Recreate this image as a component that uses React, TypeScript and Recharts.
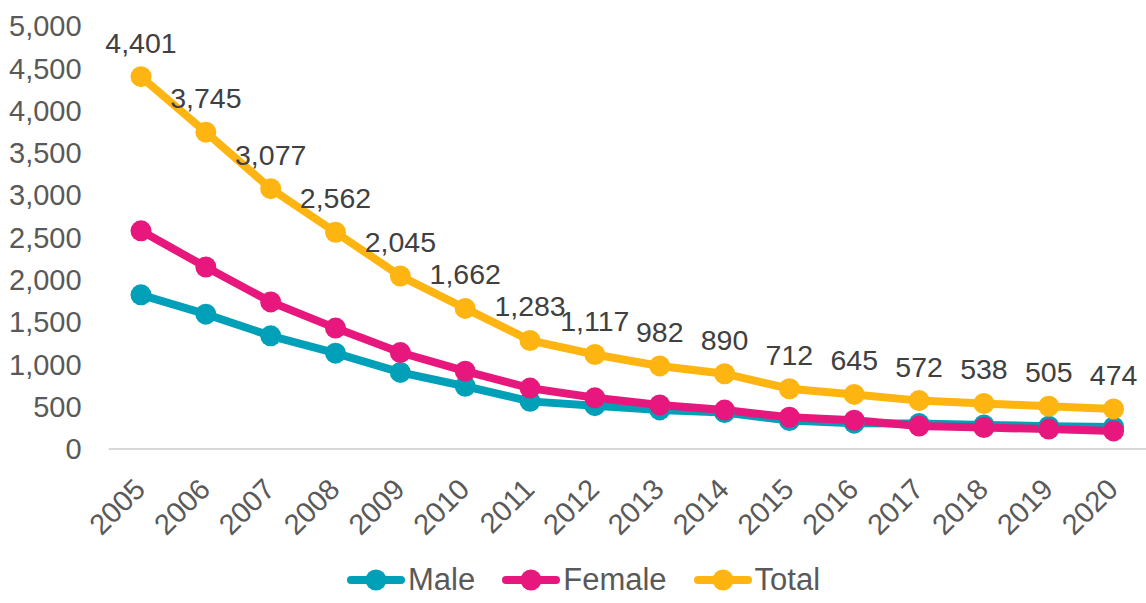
import React from 'react';
import { LineChart, Line, XAxis, YAxis, Legend, LabelList } from 'recharts';

const years = ['2005', '2006', '2007', '2008', '2009', '2010', '2011', '2012', '2013', '2014', '2015', '2016', '2017', '2018', '2019', '2020'];
const male = [1822, 1594, 1338, 1133, 905, 742, 563, 512, 462, 430, 337, 305, 300, 285, 270, 260];
const female = [2579, 2151, 1739, 1429, 1140, 920, 720, 605, 520, 460, 375, 340, 272, 253, 235, 214];
const total = [4401, 3745, 3077, 2562, 2045, 1662, 1283, 1117, 982, 890, 712, 645, 572, 538, 505, 474];
const yTicks = [0, 500, 1000, 1500, 2000, 2500, 3000, 3500, 4000, 4500, 5000];

const series = [
  { key: 'male', name: 'Male', color: '#00A0B9' },
  { key: 'female', name: 'Female', color: '#E8177D' },
  { key: 'total', name: 'Total', color: '#FFB511' },
];

const data = years.map((y, i) => ({ year: y, male: male[i], female: female[i], total: total[i] }));

const FONT = '"Liberation Sans", Arial, sans-serif';

const XTick = (props: any) => {
  const { x, y, payload } = props;
  return (
    <text
      transform={`translate(${x + 6},${y + 34}) rotate(-45)`}
      textAnchor="end"
      fill="#595959"
      fontSize={29}
      fontFamily={FONT}
    >
      {payload.value}
    </text>
  );
};

const LegendContent = () => (
  <div style={{ display: 'flex', alignItems: 'center', paddingLeft: 347, paddingTop: 6, fontFamily: FONT }}>
    {series.map((s, i) => (
      <div key={s.key} style={{ display: 'flex', alignItems: 'center', marginRight: i < series.length - 1 ? 27 : 0 }}>
        <svg width={58} height={24} style={{ display: 'block' }}>
          <line x1={4} y1={12} x2={54} y2={12} stroke={s.color} strokeWidth={8} strokeLinecap="round" />
          <circle cx={29} cy={12} r={10.5} fill={s.color} />
        </svg>
        <span style={{ fontSize: 31, color: '#595959', marginLeft: 3, lineHeight: '34px' }}>{s.name}</span>
      </div>
    ))}
  </div>
);

export default function App() {
  return (
    <div style={{ position: 'absolute', left: 0, top: 0, width: 1146, height: 603, background: '#fff' }}>
      <LineChart
        width={1146}
        height={603}
        data={data}
        margin={{ top: 26, right: 0, bottom: 0, left: 0 }}
        style={{ fontFamily: FONT }}
      >
        <XAxis
          dataKey="year"
          height={108}
          tick={<XTick />}
          tickLine={false}
          axisLine={{ stroke: '#D9D9D9', strokeWidth: 2 }}
          interval={0}
          padding={{ left: 32.4, right: 32.4 }}
        />
        <YAxis
          width={108.6}
          domain={[0, 5000]}
          ticks={yTicks}
          tickFormatter={(v: number) => v.toLocaleString('en-US')}
          tick={{ fill: '#595959', fontSize: 29, fontFamily: FONT }}
          tickLine={false}
          axisLine={false}
          tickMargin={21}
          interval={0}
        />
        <Legend verticalAlign="bottom" height={46} content={<LegendContent />} />
        {series.map((s) => (
          <Line
            key={s.key}
            type="linear"
            dataKey={s.key}
            name={s.name}
            stroke={s.color}
            strokeWidth={8}
            dot={{ r: 10.5, fill: s.color, stroke: s.color, strokeWidth: 0 }}
            activeDot={false}
            isAnimationActive={false}
          >
            {s.key === 'total' ? (
              <LabelList
                dataKey="total"
                position="top"
                offset={24}
                formatter={(v: number) => v.toLocaleString('en-US')}
                fill="#404040"
                fontSize={28.5}
                fontFamily={FONT}
              />
            ) : null}
          </Line>
        ))}
      </LineChart>
    </div>
  );
}
